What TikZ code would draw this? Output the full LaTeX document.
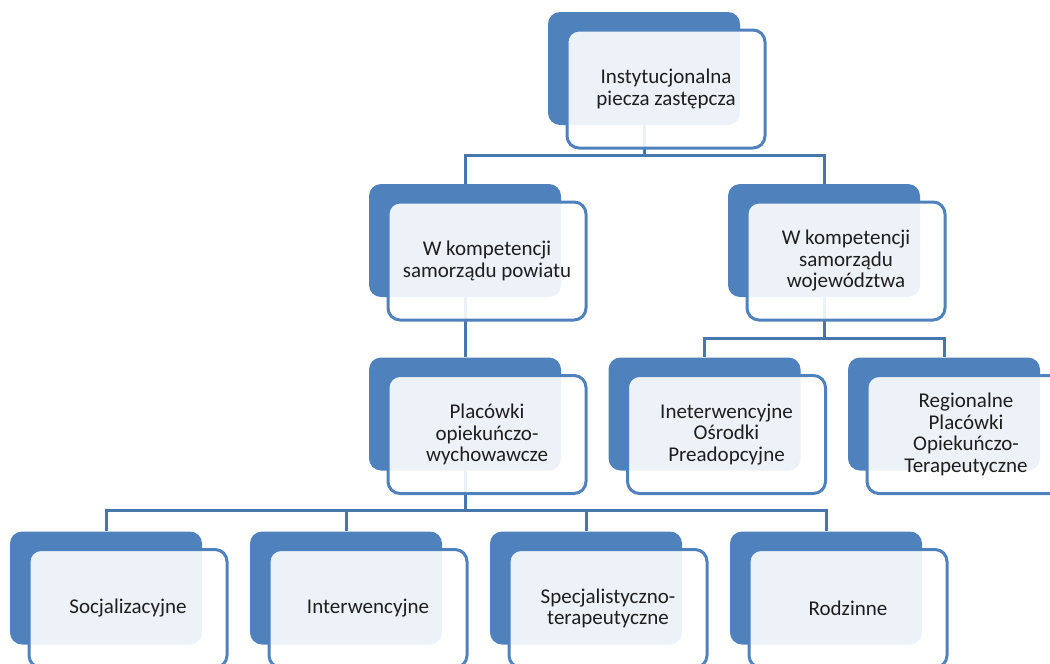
\documentclass[tikz,border=0pt]{standalone}
\usepackage{fontspec}
\setmainfont{Carlito}
\usetikzlibrary{calc}
\definecolor{accent}{RGB}{79,129,189}
\definecolor{connc}{RGB}{70,118,172}
\definecolor{txt}{RGB}{30,30,30}
\begin{document}
\begin{tikzpicture}[x=1pt,y=-1pt,
  backbox/.style={fill=accent,draw=none,rounded corners=12pt,minimum width=192pt,minimum height=113pt,inner sep=0pt},
  frontbox/.style={fill=white,fill opacity=0.9,text opacity=1,draw=accent,line width=3pt,rounded corners=12pt,minimum width=198pt,minimum height=118pt,inner sep=0pt,align=center,text=txt,font=\fontsize{21}{21.5}\selectfont},
  conn/.style={draw=connc,line width=3pt}]
\useasboundingbox (0,0) rectangle (1050,664);
\clip (0,0) rectangle (1050,664);
% back boxes
\node[backbox] (bT) at (644,68.5) {};
\node[backbox] (bL) at (465,240.5) {};
\node[backbox] (bR) at (824,240.5) {};
\node[backbox] (bP) at (465,414) {};
\node[backbox] (bI) at (704.5,414) {};
\node[backbox] (bG) at (944,414) {};
\node[backbox] (bS) at (106,588) {};
\node[backbox] (bN) at (346,588) {};
\node[backbox] (bX) at (586,588) {};
\node[backbox] (bD) at (826,588) {};
% connectors
\draw[conn] (bT.south) -- ++(0,30) -| (bL.north);
\draw[conn] (bT.south) -- ++(0,30) -| (bR.north);
\draw[conn] (bL.south) -- (bP.north);
\draw[conn] (bR.south) -- ++(0,41) -| (bI.north);
\draw[conn] (bR.south) -- ++(0,41) -| (bG.north);
\draw[conn] (bP.south) -- ++(0,40) -| (bS.north);
\draw[conn] (bP.south) -- ++(0,40) -| (bN.north);
\draw[conn] (bP.south) -- ++(0,40) -| (bX.north);
\draw[conn] (bP.south) -- ++(0,40) -| (bD.north);
% front boxes
\node[frontbox] (fT) at ($(bT)+(22,20.5)$) {Instytucjonalna\\piecza zastępcza};
\node[frontbox] (fL) at ($(bL)+(22,20.5)$) {W kompetencji\\samorządu powiatu};
\node[frontbox] (fR) at ($(bR)+(22,20.5)$) {W kompetencji\\samorządu\\województwa};
\node[frontbox] (fP) at ($(bP)+(22,20.5)$) {Placówki\\opiekuńczo-\\wychowawcze};
\node[frontbox] (fI) at ($(bI)+(22,20.5)$) {Ineterwencyjne\\Ośrodki\\Preadopcyjne};
\node[frontbox] (fG) at ($(bG)+(22,20.5)$) {Regionalne\\Placówki\\Opiekuńczo-\\Terapeutyczne};
\node[frontbox] (fS) at ($(bS)+(22,20.5)$) {Socjalizacyjne};
\node[frontbox] (fN) at ($(bN)+(22,20.5)$) {Interwencyjne};
\node[frontbox] (fX) at ($(bX)+(22,20.5)$) {Specjalistyczno-\\terapeutyczne};
\node[frontbox] (fD) at ($(bD)+(22,20.5)$) {Rodzinne};
\end{tikzpicture}
\end{document}
